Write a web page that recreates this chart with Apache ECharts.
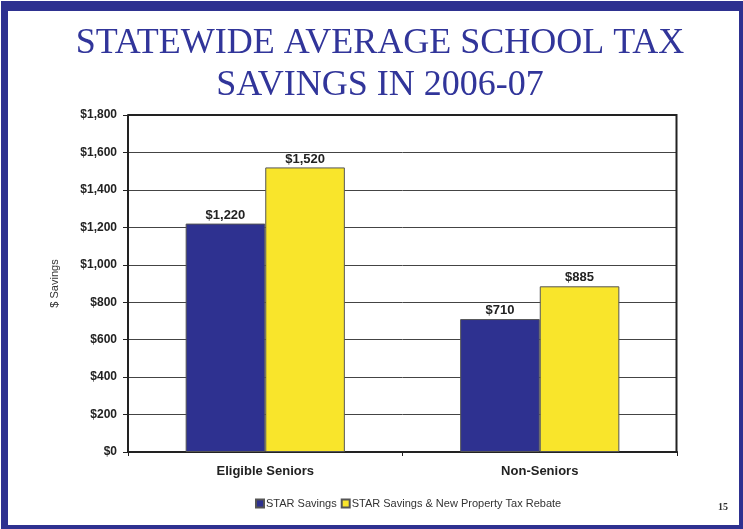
<!DOCTYPE html>
<html>
<head>
<meta charset="utf-8">
<script src="https://cdn.jsdelivr.net/npm/echarts@6/dist/echarts.min.js"></script>
<style>
  html, body { margin: 0; padding: 0; background: #fff; }
  #chart { width: 743px; height: 529px; }
</style>
</head>
<body>
<div id="chart"></div>
<script>
// Average school tax savings, 2006-07
const categories = ['Eligible Seniors', 'Non-Seniors'];
const starSavings = [1220, 710];
const starPlusRebate = [1520, 885];
const seriesNames = ['STAR Savings', 'STAR Savings & New Property Tax Rebate'];
const titleLines = ['STATEWIDE AVERAGE SCHOOL TAX', 'SAVINGS IN 2006-07'];
const pageNumber = '15';

const navy = '#2E3190';
const yellow = '#F9E52B';
const sans = 'Liberation Sans, Arial, sans-serif';

const money = v => '$' + v.toLocaleString('en-US');

const chart = echarts.init(document.getElementById('chart'), null, { renderer: 'canvas' });

const labelStyle = {
  show: true,
  position: 'top',
  distance: 2,
  formatter: p => money(p.value),
  fontFamily: sans,
  fontWeight: 'bold',
  fontSize: 13,
  color: '#222'
};

chart.setOption({
  animation: false,
  backgroundColor: '#fff',
  graphic: [
    // slide frame: heavier on top and left, thin on right and bottom
    { type: 'rect', silent: true, shape: { x: 1, y: 1, width: 742, height: 10 }, style: { fill: navy } },
    { type: 'rect', silent: true, shape: { x: 1, y: 1, width: 7, height: 528 }, style: { fill: navy } },
    { type: 'rect', silent: true, shape: { x: 739, y: 1, width: 4, height: 528 }, style: { fill: navy } },
    { type: 'rect', silent: true, shape: { x: 1, y: 525, width: 742, height: 4 }, style: { fill: navy } },
    // title
    { type: 'text', x: 380, y: 23,
      style: { text: titleLines.join('\n'), fill: '#31359A', font: '36px "Liberation Serif", "Times New Roman", serif',
        textAlign: 'center', textVerticalAlign: 'top', lineHeight: 42 } },
    { type: 'text', left: 718, top: 502,
      style: { text: pageNumber, fill: '#333', font: 'bold 10px "Liberation Serif", serif' } },
    // plot border (top and right)
    { type: 'polyline', silent: true, z: 10,
      shape: { points: [[128, 115], [676.5, 115], [676.5, 452]] },
      style: { stroke: '#222', lineWidth: 2, fill: 'none' } }
  ],
  legend: {
    top: 493,
    left: 250,
    itemWidth: 8,
    itemHeight: 8,
    itemGap: 4,
    icon: 'rect',
    textStyle: { fontFamily: sans, fontSize: 11, color: '#333', padding: [0, 0, 0, -3] },
    data: seriesNames
  },
  grid: { left: 128, right: 66, top: 115, bottom: 77 },
  xAxis: {
    type: 'category',
    data: categories,
    axisLine: { lineStyle: { color: '#222', width: 2 } },
    axisTick: { show: true, length: 4, lineStyle: { color: '#222' } },
    axisLabel: { margin: 13, fontFamily: sans, fontWeight: 'bold', fontSize: 13, color: '#222' }
  },
  yAxis: {
    type: 'value',
    min: 0,
    max: 1800,
    interval: 200,
    name: '$ Savings',
    nameLocation: 'middle',
    nameGap: 68,
    nameRotate: 90,
    nameTextStyle: { fontFamily: sans, fontSize: 11, color: '#333' },
    axisLine: { show: true, lineStyle: { color: '#222', width: 2 } },
    axisTick: { show: true, length: 5, lineStyle: { color: '#222' } },
    axisLabel: { margin: 11, formatter: money, fontFamily: sans, fontWeight: 'bold', fontSize: 12, color: '#222' },
    splitLine: { lineStyle: { color: '#444', width: 1 } }
  },
  series: [
    { name: seriesNames[0], type: 'bar', data: starSavings, barGap: '0%', barCategoryGap: '42%',
      itemStyle: { color: navy, borderColor: '#555', borderWidth: 1 }, label: labelStyle },
    { name: seriesNames[1], type: 'bar', data: starPlusRebate,
      itemStyle: { color: yellow, borderColor: '#555', borderWidth: 1 }, label: labelStyle }
  ]
});
</script>
</body>
</html>
